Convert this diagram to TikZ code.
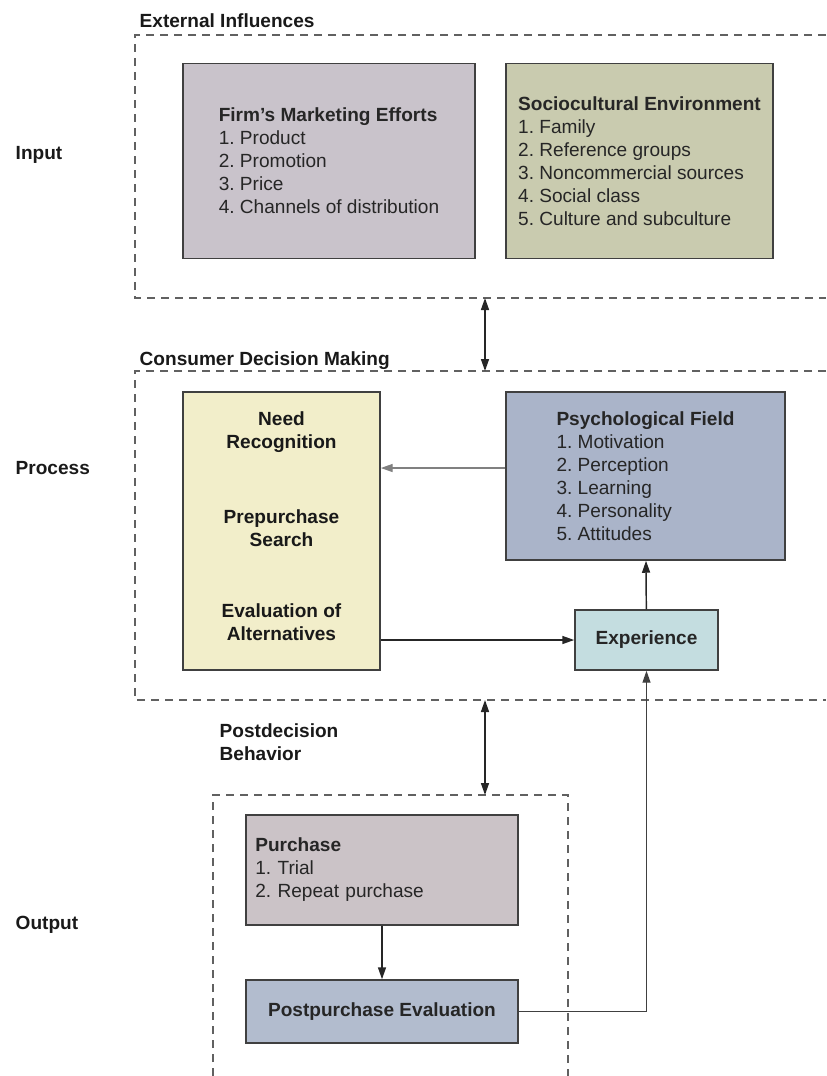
\documentclass[tikz,border=0pt]{standalone}
\usepackage{fontspec}
\setmainfont{Liberation Sans}
\usepackage{xcolor}
\usepackage{tikz}
\usetikzlibrary{arrows.meta, positioning, calc}
\definecolor{firmgray}{HTML}{C9C3CB}
\definecolor{socioolive}{HTML}{C9CBAF}
\definecolor{needyellow}{HTML}{F2EECA}
\definecolor{psychblue}{HTML}{AAB4C9}
\definecolor{expcyan}{HTML}{C4DDE0}
\definecolor{purchgray}{HTML}{CBC3C7}
\definecolor{evalblue}{HTML}{B2BCCE}
\frenchspacing

\begin{document}
\begin{tikzpicture}[
  x=0.75pt, y=-0.75pt,
  every node/.style={font=\fontsize{14.3}{17.25}\selectfont, text=black!85},
  box/.style={draw=black!75, line width=1.1pt, align=left, inner sep=0pt},
  firm/.style={box, fill=firmgray},
  socio/.style={box, fill=socioolive},
  need/.style={box, fill=needyellow},
  psych/.style={box, fill=psychblue},
  exper/.style={box, fill=expcyan, font=\fontsize{14.3}{17.25}\selectfont\bfseries},
  purch/.style={box, fill=purchgray},
  evalb/.style={box, fill=evalblue, font=\fontsize{14.3}{17.25}\selectfont\bfseries},
  zone/.style={draw=black!62, line width=1.1pt, dash pattern=on 6pt off 4.5pt},
  title/.style={anchor=base west, font=\fontsize{14.3}{17.25}\selectfont\bfseries, text=black!90, align=left},
  stage/.style={anchor=west, font=\fontsize{14.3}{17.25}\selectfont\bfseries, text=black!90},
  inlab/.style={align=center, font=\fontsize{14.3}{17.25}\selectfont\bfseries, text=black!90},
  arr/.style={-{Triangle[length=9pt,width=6pt]}, line width=1.1pt, draw=black!85},
  twoway/.style={arr, {Triangle[length=9pt,width=6pt]}-{Triangle[length=9pt,width=6pt]}}
]
\useasboundingbox (0,0) rectangle (826,1076);

%% zones
\draw[zone] (826,35) -- (135,35) -- (135,298) -- (826,298);
\draw[zone] (826,371) -- (135,371) -- (135,700) -- (826,700);
\draw[zone] (213,1076) -- (213,795) -- (568,795) -- (568,1076);
\coordinate (inbot)  at (485,298);
\coordinate (prtop)  at (485,371);
\coordinate (prbot)  at (485,700);
\coordinate (outtop) at (485,795);

\node[title] (extT)  at (135,27)  {External Influences};
\node[title] (cdmT)  at (135,365) {Consumer Decision Making};
\node[title] (postT) at (215,760) {Postdecision\\Behavior};

\node[stage] (input)   at (11,155) {Input};
\node[stage] (process) at (11,468) {Process};
\node[stage] (output)  at (11,925) {Output};

%% input
\node[firm, minimum width=219pt, minimum height=146.25pt] (firm) at (329,161)
  {\textbf{Firm's Marketing Efforts}\\1. Product\\2. Promotion\\3. Price\\4. Channels of distribution};
\node[socio, minimum width=200.25pt, minimum height=146.25pt] (socio) at (639.5,161)
  {\textbf{Sociocultural Environment}\\1. Family\\2. Reference groups\\3. Noncommercial sources\\4. Social class\\5. Culture and subculture};

%% process
\node[need, minimum width=147.75pt, minimum height=208.5pt] (need) at (281.5,531) {};
\node[inlab] (needrec) at (281.5,432) {Need\\Recognition};
\node[inlab] (presrch) at (281.5,528) {Prepurchase\\Search};
\node[inlab] (evalalt) at (281.5,622) {Evaluation of\\Alternatives};
\node[psych, minimum width=209.25pt, minimum height=126pt] (psych) at (645.5,476)
  {\textbf{Psychological Field}\\1. Motivation\\2. Perception\\3. Learning\\4. Personality\\5. Attitudes};
\node[exper, minimum width=107.25pt, minimum height=45pt, align=center] (exp) at (646.5,640) {Experience};

%% output
\node[purch, minimum width=204pt, minimum height=82.5pt, text width=190pt, inner xsep=7pt] (purchase) at (382,870)
  {\textbf{Purchase}\\1. Trial\\2. Repeat purchase};
\node[evalb, minimum width=204pt, minimum height=47.25pt, align=center] (posteval) at (382,1011.5)
  {Postpurchase Evaluation};

%% connectors
\draw[twoway] (inbot) -- (prtop);
\draw[twoway] (prbot) -- (outtop);
\draw[arr, draw=black!50] (psych.west |- 0,468) -- (need.east |- 0,468);
\foreach \a/\b in {exp/psych,purchase/posteval}
  \draw[arr] (\a) -- (\b);
\draw[arr] (need.east |- exp) -- (exp.west);
\draw[arr, draw=black!75, line width=1pt] (posteval.east) -| (exp.south);
\end{tikzpicture}
\end{document}
